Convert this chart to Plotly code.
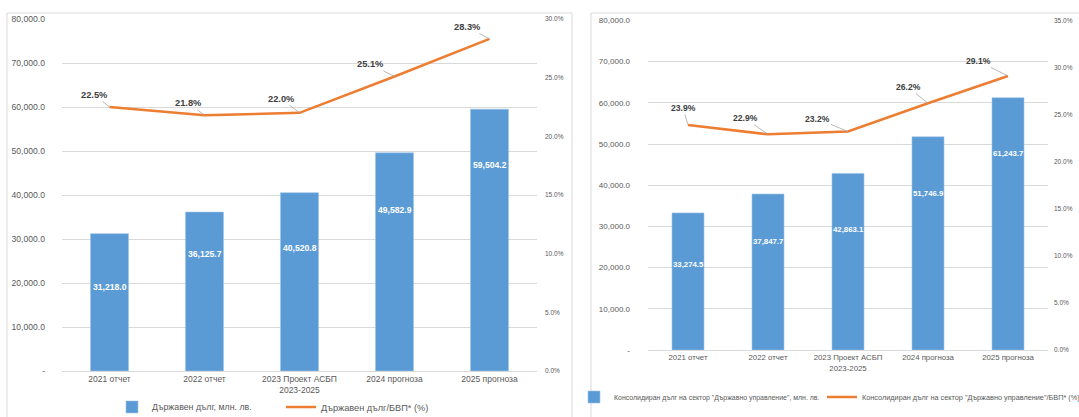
import plotly.graph_objects as go

# ---------------- data ----------------
categories = ["2021 отчет", "2022 отчет", "2023 Проект АСБП<br>2023-2025", "2024 прогноза", "2025 прогноза"]

debt_left = [31218.0, 36125.7, 40520.8, 49582.9, 59504.2]
ratio_left = [22.5, 21.8, 22.0, 25.1, 28.3]

debt_right = [33274.5, 37847.7, 42863.1, 51746.9, 61243.7]
ratio_right = [23.9, 22.9, 23.2, 26.2, 29.1]

debt_tickvals = [0, 10000, 20000, 30000, 40000, 50000, 60000, 70000, 80000]
debt_ticktext = ["-", "10,000.0", "20,000.0", "30,000.0", "40,000.0", "50,000.0", "60,000.0", "70,000.0", "80,000.0"]
pct_ticks_left = [0, 5, 10, 15, 20, 25, 30]
pct_ticks_right = [0, 5, 10, 15, 20, 25, 30, 35]

name_left_bar = "Държавен дълг, млн. лв."
name_left_line = "Държавен дълг/БВП* (%)"
name_right_bar = 'Консолидиран дълг на сектор "Държавно управление", млн. лв.'
name_right_line = 'Консолидиран дълг на сектор "Държавно управление"/БВП* (%)'

# ---------------- style / layout helpers ----------------
W, H = 1079, 417
def px(x):
    return x / W
def py(y):
    return 1 - y / H

BLUE = "#5B9BD5"
ORANGE = "#ED7D31"
GRID = "#d9d9d9"
TXT = "#595959"
FONT = "Liberation Sans, Arial, sans-serif"

bar_label_shift_left = [-53, -42, -55, -57, -56]
bar_label_shift_right = [-52, -47, -56, -57, -56]
pct_offsets_left = [(-15, -12), (-16, -12), (-18, -14), (-24, -12), (-22, -12)]
pct_offsets_right = [(-5, -17), (-23, -16), (-31, -13), (-20, -16), (-30, -15)]

fig = go.Figure()

fig.add_trace(go.Bar(x=categories, y=debt_left, name=name_left_bar, marker_color=BLUE,
                     marker_line=dict(color="#9dc3e6", width=0.6), width=0.4, showlegend=True,
                     xaxis="x", yaxis="y", legend="legend"))
fig.add_trace(go.Scatter(x=categories, y=ratio_left, name=name_left_line, mode="lines", showlegend=True,
                         line=dict(color=ORANGE, width=2.5), xaxis="x", yaxis="y2", legend="legend2"))
fig.add_trace(go.Bar(x=categories, y=debt_right, name=name_right_bar, marker_color=BLUE,
                     marker_line=dict(color="#9dc3e6", width=0.6), width=0.4, showlegend=True,
                     xaxis="x2", yaxis="y3", legend="legend3"))
fig.add_trace(go.Scatter(x=categories, y=ratio_right, name=name_right_line, mode="lines", showlegend=True,
                         line=dict(color=ORANGE, width=2.5), xaxis="x2", yaxis="y4", legend="legend4"))

annotations = []
for c, v, s in zip(categories, debt_left, bar_label_shift_left):
    annotations.append(dict(x=c, y=v, xref="x", yref="y", text=f"{v:,.1f}", showarrow=False,
                            yshift=s, font=dict(color="white", size=8.6, family=FONT, weight="bold")))
for c, v, s in zip(categories, debt_right, bar_label_shift_right):
    annotations.append(dict(x=c, y=v, xref="x2", yref="y3", text=f"{v:,.1f}", showarrow=False,
                            yshift=s, font=dict(color="white", size=7.8, family=FONT, weight="bold")))
for c, v, (ax, ay) in zip(categories, ratio_left, pct_offsets_left):
    annotations.append(dict(x=c, y=v, xref="x", yref="y2", text=f"{v:.1f}%", showarrow=True,
                            ax=ax, ay=ay, arrowhead=0, arrowwidth=0.8, arrowcolor="#a6a6a6",
                            font=dict(color="#404040", size=9.3, family=FONT, weight="bold")))
for c, v, (ax, ay) in zip(categories, ratio_right, pct_offsets_right):
    annotations.append(dict(x=c, y=v, xref="x2", yref="y4", text=f"{v:.1f}%", showarrow=True,
                            ax=ax, ay=ay, arrowhead=0, arrowwidth=0.8, arrowcolor="#a6a6a6",
                            font=dict(color="#404040", size=8.6, family=FONT, weight="bold")))

shapes = [
    dict(type="rect", xref="paper", yref="paper", x0=px(7), x1=px(572), y0=py(420), y1=py(13),
         line=dict(color=GRID, width=1), layer="below"),
    dict(type="rect", xref="paper", yref="paper", x0=px(591), x1=px(1090), y0=py(420), y1=py(13),
         line=dict(color=GRID, width=1), layer="below"),
]

fig.update_layout(
    width=W, height=H,
    showlegend=True,
    margin=dict(l=0, r=0, t=0, b=0, autoexpand=False),
    paper_bgcolor="white", plot_bgcolor="white",
    font=dict(family=FONT, color=TXT),
    xaxis=dict(domain=[px(62), px(537)], anchor="y", showgrid=False, showline=True,
               linecolor=GRID, tickfont=dict(size=8.5, color=TXT, family=FONT), ticks=""),
    yaxis=dict(domain=[py(371), py(19)], range=[0, 80000], tickvals=debt_tickvals, ticktext=debt_ticktext,
               showgrid=True, gridcolor=GRID, zeroline=False, tickfont=dict(size=8.6, color=TXT, family=FONT),
               ticklabelstandoff=16, anchor="x"),
    yaxis2=dict(overlaying="y", side="right", range=[0, 30], tickvals=pct_ticks_left,
                ticktext=[f"{t:.1f}%" for t in pct_ticks_left], showgrid=False, zeroline=False,
                tickfont=dict(size=6.5, color=TXT, family=FONT), ticklabelstandoff=7, anchor="x"),
    xaxis2=dict(domain=[px(648), px(1048)], anchor="y3", showgrid=False, showline=True,
                linecolor=GRID, tickfont=dict(size=7.8, color=TXT, family=FONT), ticks=""),
    yaxis3=dict(domain=[py(350), py(20.4)], range=[0, 80000], tickvals=debt_tickvals, ticktext=debt_ticktext,
                showgrid=True, gridcolor=GRID, zeroline=False, tickfont=dict(size=8.0, color=TXT, family=FONT),
                ticklabelstandoff=17, anchor="x2"),
    yaxis4=dict(overlaying="y3", side="right", range=[0, 35], tickvals=pct_ticks_right,
                ticktext=[f"{t:.1f}%" for t in pct_ticks_right], showgrid=False, zeroline=False,
                tickfont=dict(size=6.5, color=TXT, family=FONT), ticklabelstandoff=5, anchor="x2"),
    legend=dict(x=px(112), y=py(407), xanchor="left", yanchor="middle", orientation="h",
                font=dict(size=8.8, color=TXT, family=FONT), bgcolor="rgba(0,0,0,0)"),
    legend2=dict(x=px(281), y=py(407), xanchor="left", yanchor="middle", orientation="h",
                 font=dict(size=9.2, color=TXT, family=FONT), bgcolor="rgba(0,0,0,0)"),
    legend3=dict(x=px(574), y=py(397), xanchor="left", yanchor="middle", orientation="h",
                 font=dict(size=6.95, color=TXT, family=FONT), bgcolor="rgba(0,0,0,0)"),
    legend4=dict(x=px(822), y=py(397), xanchor="left", yanchor="middle", orientation="h",
                 font=dict(size=7.3, color=TXT, family=FONT), bgcolor="rgba(0,0,0,0)"),
    annotations=annotations,
    shapes=shapes,
    bargap=0.6,
)

fig.write_html("out.html")
